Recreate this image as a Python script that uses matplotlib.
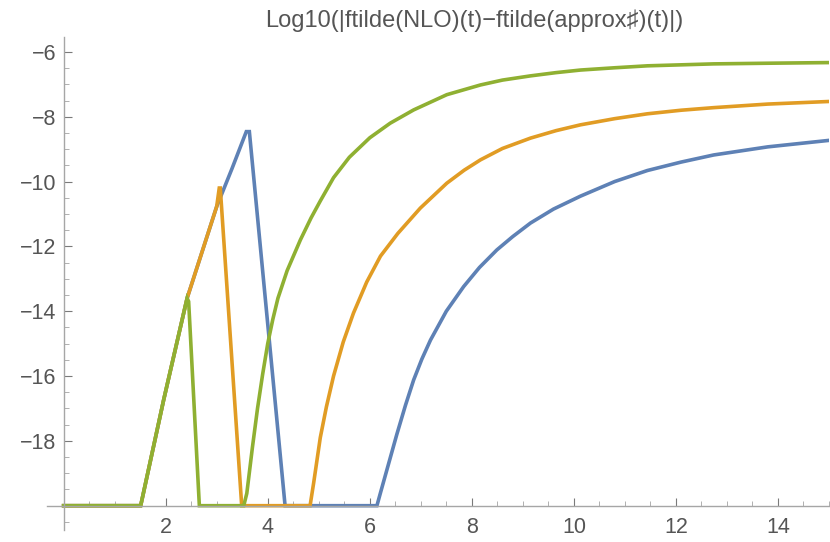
import matplotlib.pyplot as plt
from matplotlib.ticker import MultipleLocator, FixedLocator, FuncFormatter

# ----------------------------------------------------------
# data (t, log10 difference)
# values below -20 are clipped at -20
# ----------------------------------------------------------
t_blue = [0.0, 1.51, 1.96, 2.42, 3.0, 3.3, 3.58, 3.64, 4.34, 6.14, 6.21, 6.37,
          6.53, 6.7, 6.86, 7.02, 7.19, 7.5, 7.84, 8.15, 8.49, 8.8, 9.15, 9.6,
          10.13, 10.8, 11.44, 12.1, 12.74, 13.8, 15.0]
y_blue = [-20.0, -20.0, -16.74, -13.6, -10.77, -9.6, -8.46, -8.46, -20.0, -20.0,
          -19.6, -18.7, -17.8, -16.9, -16.12, -15.48, -14.89, -14.0, -13.24,
          -12.65, -12.11, -11.7, -11.28, -10.85, -10.45, -10.0, -9.66, -9.4,
          -9.18, -8.93, -8.73]

t_orange = [0.0, 1.51, 1.96, 2.42, 3.0, 3.05, 3.07, 3.49, 4.83, 4.9, 5.03, 5.15,
            5.29, 5.48, 5.68, 5.94, 6.21, 6.55, 6.99, 7.51, 7.85, 8.17, 8.6,
            9.15, 9.65, 10.13, 10.8, 11.44, 12.1, 12.74, 13.8, 15.0]
y_orange = [-20.0, -20.0, -16.74, -13.6, -10.77, -10.2, -10.2, -20.0, -20.0,
            -19.3, -17.9, -16.95, -16.0, -14.95, -14.06, -13.1, -12.3, -11.6,
            -10.82, -10.05, -9.65, -9.33, -8.98, -8.66, -8.43, -8.25, -8.06,
            -7.91, -7.8, -7.72, -7.61, -7.53]

t_green = [0.0, 1.51, 1.96, 2.42, 2.45, 2.66, 3.53, 3.59, 3.7, 3.8, 3.9, 4.0,
           4.1, 4.2, 4.38, 4.64, 4.85, 5.03, 5.29, 5.6, 6.0, 6.4, 6.86, 7.51,
           8.17, 8.6, 9.15, 9.65, 10.13, 10.8, 11.44, 12.74, 13.8, 15.0]
y_green = [-20.0, -20.0, -16.74, -13.6, -13.7, -20.0, -20.0, -19.62, -18.2,
           -17.0, -15.95, -15.0, -14.25, -13.6, -12.75, -11.8, -11.12, -10.6,
           -9.88, -9.25, -8.65, -8.2, -7.79, -7.32, -7.02, -6.87, -6.74, -6.64,
           -6.56, -6.49, -6.43, -6.37, -6.35, -6.33]

title = "Log10(|ftilde(NLO)(t)\u2212ftilde(approx\u266f)(t)|)"

# ----------------------------------------------------------
# figure
# ----------------------------------------------------------
plt.rcParams['font.family'] = ['Liberation Sans', 'DejaVu Sans']

fig = plt.figure(figsize=(8.3, 5.42), dpi=100)
ax = fig.add_axes([47.3 / 830, 12 / 542, 781.7 / 830, 492.7 / 542])

lw = 2.6
ax.plot(t_blue, y_blue, color="#5E81B5", linewidth=lw, solid_joinstyle="miter")
ax.plot(t_orange, y_orange, color="#E19C24", linewidth=lw, solid_joinstyle="miter")
ax.plot(t_green, y_green, color="#8FB032", linewidth=lw, solid_joinstyle="miter")

ax.set_xlim(-0.32, 15)
ax.set_ylim(-20.75, -5.55)

# mathematica-style axes crossing at (0, -20)
for side in ["top", "right"]:
    ax.spines[side].set_visible(False)
ax.spines["left"].set_position(("data", 0))
ax.spines["bottom"].set_position(("data", -20))
for side in ["left", "bottom"]:
    ax.spines[side].set_color("#a6a6a6")
    ax.spines[side].set_linewidth(1.0)

ax.xaxis.set_major_locator(FixedLocator([2, 4, 6, 8, 10, 12, 14]))
ax.xaxis.set_minor_locator(MultipleLocator(0.5))
ax.yaxis.set_major_locator(MultipleLocator(2))
ax.yaxis.set_minor_locator(MultipleLocator(0.5))
ax.yaxis.set_major_formatter(
    FuncFormatter(lambda v, p: "" if v <= -20 else "\u2212%d" % abs(v))
)

ax.tick_params(which="major", direction="in", length=6, width=0.8,
               color="#7a7a7a", labelcolor="#555555", labelsize=15.5)
ax.tick_params(which="minor", direction="in", length=3.5, width=0.7,
               color="#b0b0b0")
ax.tick_params(axis="y", which="major", pad=5.5)
ax.tick_params(axis="x", which="major", pad=8)

fig.text(474 / 830, 1 - 21 / 542, title, ha="center", va="center",
         fontsize=17, color="#555555")

fig.savefig("out.png", dpi=100)
